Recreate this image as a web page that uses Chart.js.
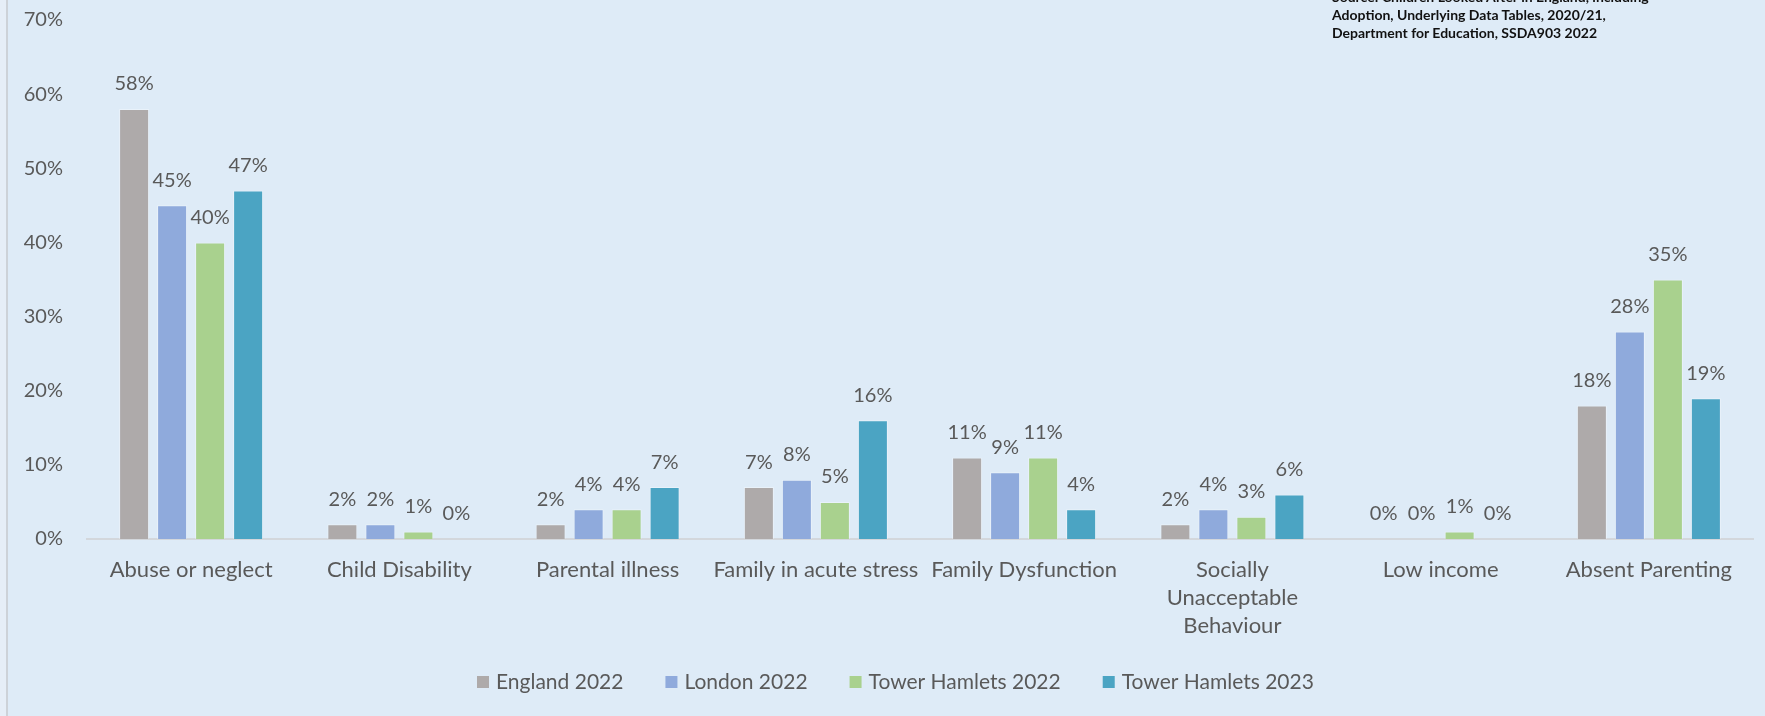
<!DOCTYPE html>
<html>
<head>
<meta charset="utf-8">
<script src="https://cdn.jsdelivr.net/npm/chart.js@4.4.1/dist/chart.umd.min.js"></script>
<style>
  html, body { margin: 0; padding: 0; background: #DEEBF7; overflow: hidden; }
  #wrap { position: relative; width: 1765px; height: 716px; }
  #edge { position: absolute; left: 0; top: 0; width: 6px; height: 716px; background: #e6eef7; border-right: 2px solid #cdd2d8; z-index: 2; }
  #source { position: absolute; left: 1332px; top: -12px; font-family: Lato, "Open Sans", sans-serif; font-weight: bold; font-size: 14px; line-height: 18px; color: #111; z-index: 2; }
  canvas { position: absolute; left: 0; top: 0; }
</style>
</head>
<body>
<div id="wrap">
  <div id="edge"></div>
  <div id="source">Source: Children Looked After in England, including<br>Adoption, Underlying Data Tables, 2020/21,<br>Department for Education, SSDA903 2022</div>
  <canvas id="c" width="1765" height="716"></canvas>
</div>
<script>
const categories = [
  "Abuse or neglect",
  "Child Disability",
  "Parental illness",
  "Family in acute stress",
  "Family Dysfunction",
  ["Socially", "Unacceptable", "Behaviour"],
  "Low income",
  "Absent Parenting"
];
const seriesNames = ["England 2022", "London 2022", "Tower Hamlets 2022", "Tower Hamlets 2023"];
const england2022 = [58, 2, 2, 7, 11, 2, 0, 18];
const london2022 = [45, 2, 4, 8, 9, 4, 0, 28];
const towerHamlets2022 = [40, 1, 4, 5, 11, 3, 1, 35];
const towerHamlets2023 = [47, 0, 7, 16, 4, 6, 0, 19];
const yTicks = [0, 10, 20, 30, 40, 50, 60, 70];

const colors = ["#AEAAAA", "#8FAADC", "#A9D18E", "#4BA4C3"];
const seriesValues = [england2022, london2022, towerHamlets2022, towerHamlets2023];
const textColor = "#595959";
const fontFamily = "Lato, 'Open Sans', sans-serif";

const datasets = seriesNames.map((name, i) => ({
  label: name,
  data: seriesValues[i],
  backgroundColor: colors[i],
  borderColor: "rgba(255,255,255,0.35)",
  borderWidth: 1,
  categoryPercentage: 0.73,
  barPercentage: 0.79
}));

const valueLabels = {
  id: "valueLabels",
  afterDatasetsDraw(chart) {
    const ctx = chart.ctx;
    ctx.save();
    ctx.font = "20px " + fontFamily;
    ctx.fillStyle = textColor;
    ctx.textAlign = "center";
    ctx.textBaseline = "middle";
    chart.data.datasets.forEach((ds, di) => {
      const meta = chart.getDatasetMeta(di);
      meta.data.forEach((el, i) => {
        ctx.fillText(ds.data[i] + "%", el.x, el.y - 25);
      });
    });
    ctx.restore();
  }
};

const customLegend = {
  id: "customLegend",
  afterDraw(chart) {
    const ctx = chart.ctx;
    ctx.save();
    ctx.font = "21px " + fontFamily;
    ctx.textBaseline = "middle";
    let x = 477;
    const y = 682;
    chart.data.datasets.forEach((ds) => {
      ctx.fillStyle = ds.backgroundColor;
      ctx.fillRect(x, y - 6, 12, 12);
      x += 19;
      ctx.fillStyle = textColor;
      ctx.fillText(ds.label, x, y);
      x += ctx.measureText(ds.label).width + 42;
    });
    ctx.restore();
  }
};

new Chart(document.getElementById("c"), {
  type: "bar",
  data: { labels: categories, datasets },
  options: {
    responsive: false,
    animation: false,
    layout: { padding: { top: 20, right: 12, left: 0, bottom: 0 } },
    plugins: {
      legend: { display: false },
      tooltip: { enabled: false }
    },
    scales: {
      x: {
        grid: { display: false, drawTicks: false },
        border: { display: true, color: "#D3D7DC", width: 2 },
        ticks: {
          color: textColor,
          font: { family: fontFamily, size: 22, lineHeight: 1.27 },
          padding: 17,
          autoSkip: false,
          maxRotation: 0
        },
        afterFit(scale) { scale.height = 177; }
      },
      y: {
        min: 0,
        max: 70,
        grid: { display: false, drawTicks: false },
        border: { display: false },
        afterBuildTicks(scale) { scale.ticks = yTicks.map(v => ({ value: v })); },
        ticks: {
          color: textColor,
          font: { family: fontFamily, size: 20 },
          padding: 24,
          callback: v => v + "%"
        },
        afterFit(scale) {
          scale.width = 87;
          scale.paddingTop = 0;
          scale.paddingBottom = 0;
        }
      }
    }
  },
  plugins: [valueLabels, customLegend]
});
</script>
</body>
</html>
